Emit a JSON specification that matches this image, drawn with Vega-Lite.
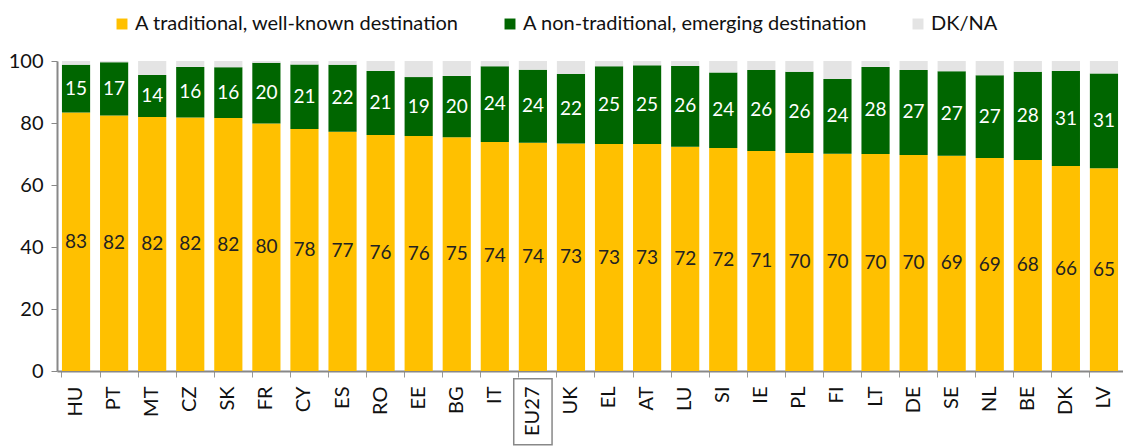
{
  "$schema": "https://vega.github.io/schema/vega-lite/v6.json",
  "width": 1066,
  "height": 310,
  "autosize": "none",
  "padding": {"left": 57, "top": 61, "right": 0, "bottom": 75},
  "background": "white",
  "config": {
    "view": {"stroke": null},
    "font": "Lato",
    "text": {"font": "Lato"}
  },
  "datasets": {
    "wide": [
      {"country": "HU", "t": 83.4, "n": 15.4, "d": 1.2},
      {"country": "PT", "t": 82.4, "n": 17.2, "d": 0.4},
      {"country": "MT", "t": 81.9, "n": 13.6, "d": 4.5},
      {"country": "CZ", "t": 81.8, "n": 16.3, "d": 1.9},
      {"country": "SK", "t": 81.6, "n": 16.4, "d": 2.0},
      {"country": "FR", "t": 79.8, "n": 19.6, "d": 0.6},
      {"country": "CY", "t": 78.1, "n": 20.8, "d": 1.1},
      {"country": "ES", "t": 77.2, "n": 21.6, "d": 1.2},
      {"country": "RO", "t": 76.1, "n": 20.7, "d": 3.2},
      {"country": "EE", "t": 75.8, "n": 19.0, "d": 5.2},
      {"country": "BG", "t": 75.4, "n": 19.8, "d": 4.8},
      {"country": "IT", "t": 73.9, "n": 24.4, "d": 1.7},
      {"country": "EU27", "t": 73.6, "n": 23.6, "d": 2.8},
      {"country": "UK", "t": 73.4, "n": 22.4, "d": 4.2},
      {"country": "EL", "t": 73.2, "n": 25.1, "d": 1.7},
      {"country": "AT", "t": 73.2, "n": 25.4, "d": 1.4},
      {"country": "LU", "t": 72.3, "n": 26.1, "d": 1.6},
      {"country": "SI", "t": 71.9, "n": 24.4, "d": 3.7},
      {"country": "IE", "t": 71.0, "n": 26.1, "d": 2.9},
      {"country": "PL", "t": 70.3, "n": 26.2, "d": 3.5},
      {"country": "FI", "t": 70.1, "n": 24.1, "d": 5.8},
      {"country": "LT", "t": 70.0, "n": 28.1, "d": 1.9},
      {"country": "DE", "t": 69.7, "n": 27.4, "d": 2.9},
      {"country": "SE", "t": 69.4, "n": 27.3, "d": 3.3},
      {"country": "NL", "t": 68.7, "n": 26.7, "d": 4.6},
      {"country": "BE", "t": 68.1, "n": 28.4, "d": 3.5},
      {"country": "DK", "t": 66.1, "n": 30.7, "d": 3.2},
      {"country": "LV", "t": 65.4, "n": 30.6, "d": 4.0}
    ],
    "cats": [
      {"key": "t", "cat": "A traditional, well-known destination", "ord": 1},
      {"key": "n", "cat": "A non-traditional, emerging destination", "ord": 2},
      {"key": "d", "cat": "DK/NA", "ord": 3}
    ]
  },
  "data": {"name": "wide"},
  "transform": [
    {"fold": ["t", "n", "d"], "as": ["key", "value"]},
    {"lookup": "key", "from": {"data": {"name": "cats"}, "key": "key", "fields": ["cat", "ord"]}}
  ],
  "encoding": {
    "x": {
      "field": "country",
      "type": "nominal",
      "sort": null,
      "scale": {"paddingInner": 0.26, "paddingOuter": 0.13},
      "axis": {
        "title": null,
        "labelAngle": -90,
        "labelAlign": "right",
        "labelBaseline": "middle",
        "labelFontSize": 20,
        "labelColor": "#111",
        "labelPadding": 9,
        "bandPosition": 0,
        "tickColor": "#999",
        "tickSize": 6,
        "domainColor": "#888",
        "domainWidth": 2
      }
    }
  },
  "layer": [
    {
      "mark": {"type": "bar"},
      "encoding": {
        "y": {
          "field": "value",
          "type": "quantitative",
          "stack": "zero",
          "scale": {"domain": [0, 100], "nice": false},
          "axis": {
            "title": null,
            "values": [0, 20, 40, 60, 80, 100],
            "grid": false,
            "labelFontSize": 20,
            "labelColor": "#111",
            "labelPadding": 8,
            "tickColor": "#888",
            "tickSize": 6,
            "domainColor": "#888",
            "domainWidth": 2
          }
        },
        "color": {
          "field": "cat",
          "type": "nominal",
          "sort": ["A traditional, well-known destination", "A non-traditional, emerging destination", "DK/NA"],
          "scale": {
            "domain": ["A traditional, well-known destination", "A non-traditional, emerging destination", "DK/NA"],
            "range": ["#FFC000", "#006600", "#E4E4E4"]
          },
          "legend": {
            "title": null,
            "orient": "none",
            "direction": "horizontal",
            "legendX": 55,
            "legendY": -47,
            "symbolType": "square",
            "symbolSize": 120,
            "symbolStrokeWidth": 0,
            "labelFontSize": 20,
            "labelColor": "#111",
            "labelLimit": 500,
            "labelOffset": 3,
            "columnPadding": 40
          }
        },
        "order": {"field": "ord", "type": "quantitative"}
      }
    },
    {
      "transform": [{"filter": "datum.key !== 'd'"}],
      "mark": {"type": "text", "fontSize": 19, "baseline": "middle", "align": "center"},
      "encoding": {
        "y": {"field": "value", "type": "quantitative", "stack": "zero", "bandPosition": 0.5},
        "text": {"field": "value", "type": "quantitative", "format": ".0f"},
        "order": {"field": "ord", "type": "quantitative"},
        "fill": {
          "condition": {"test": "datum.key === 't'", "value": "#222"},
          "value": "white"
        }
      }
    },
    {
      "transform": [{"filter": "datum.country === 'EU27' && datum.key === 't'"}],
      "mark": {"type": "rect", "fill": null, "stroke": "#888", "strokeWidth": 1.5, "width": {"band": 1.36}, "clip": false},
      "encoding": {
        "y": {"datum": -2.5},
        "y2": {"datum": -23.8}
      }
    }
  ]
}
